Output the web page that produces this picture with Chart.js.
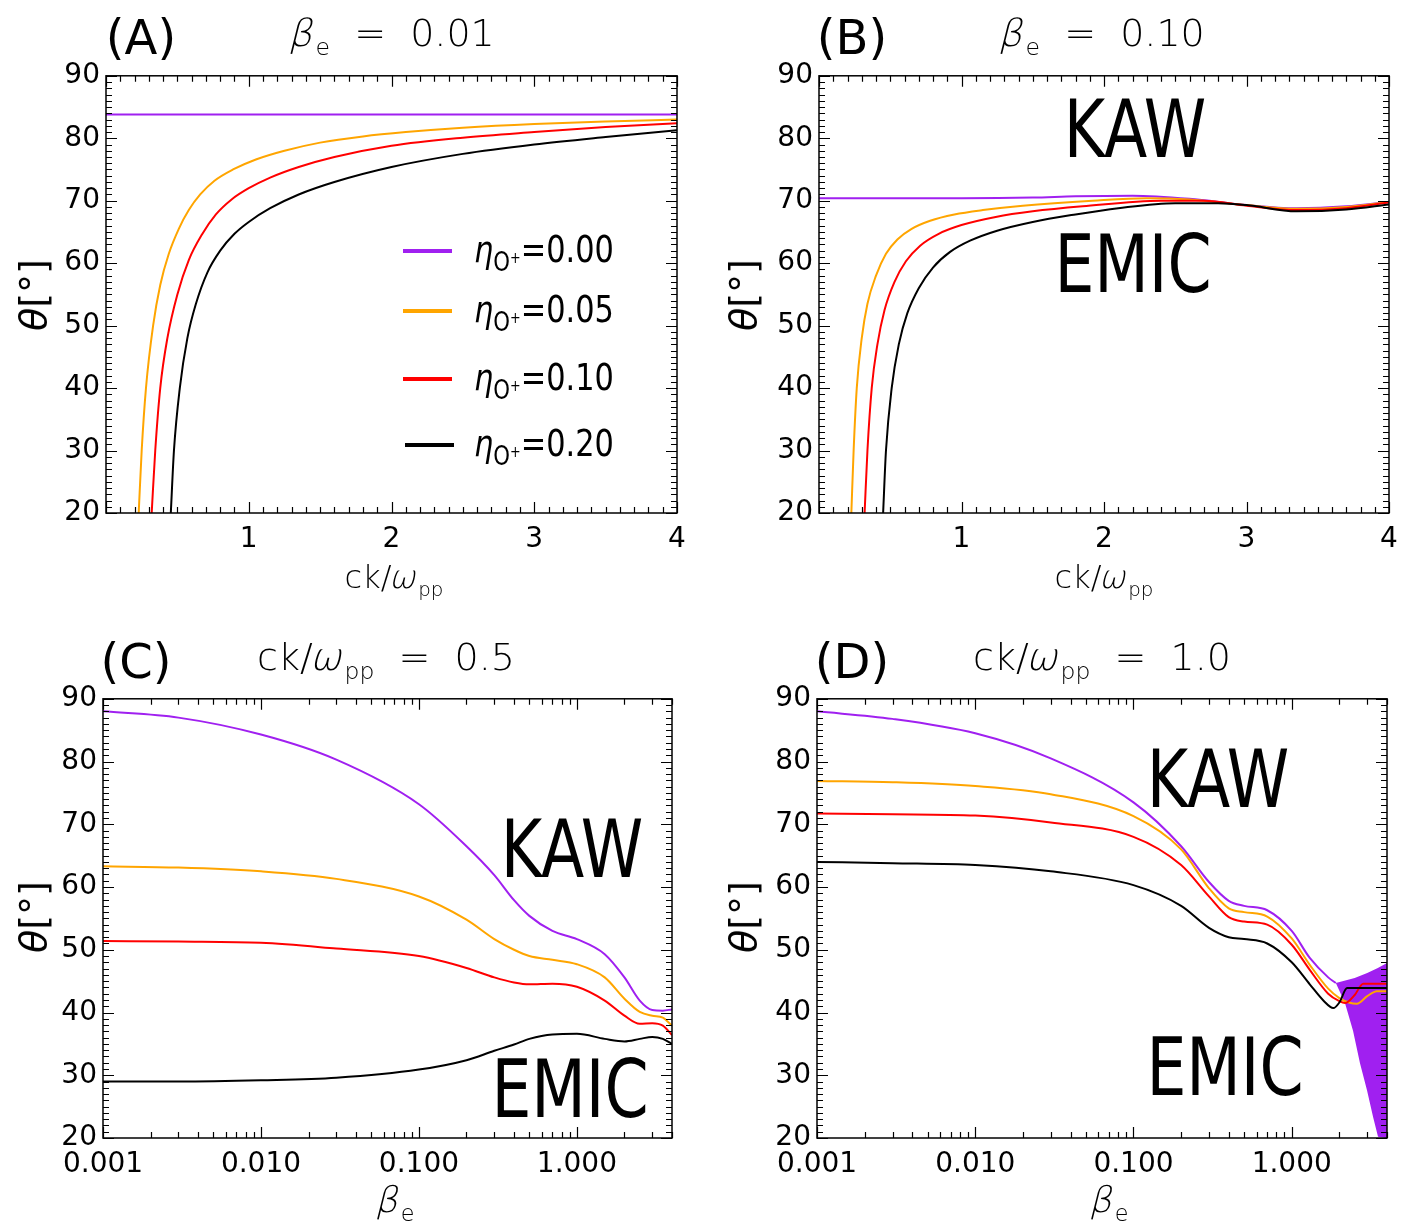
<!DOCTYPE html>
<html>
<head>
<meta charset="utf-8">
<script src="https://cdn.jsdelivr.net/npm/chart.js@4.4.0/dist/chart.umd.min.js"></script>
<style>
  body { margin: 0; background: #fff; width: 1423px; height: 1227px; position: relative; overflow: hidden; font-family: "DejaVu Sans", sans-serif; color: #000; }
  canvas { position: absolute; }
  .t { position: absolute; transform: translate(-50%, -50%); white-space: nowrap; line-height: 1; }
  .lbl { font-size: 48px; }
  .ttl { font-size: 38px; font-weight: 200; }
  .ttl sub, .ax sub { font-size: 0.62em; vertical-align: -0.4em; }
  .sl { display: inline-block; transform: skewX(-14deg); }
  .ax { font-size: 32px; font-weight: 200; }
  .yt { font-size: 38px; transform: translate(-50%, -50%) rotate(-90deg); }
  .big { font-size: 80px; transform: translate(-50%, -50%) scaleX(0.79); }
  .leg { position: absolute; height: 4px; width: 49px; }
  .legt { position: absolute; font-size: 38px; line-height: 1; transform: translateY(-50%) scaleX(0.8); transform-origin: left center; white-space: nowrap; }
  .legt sub { font-size: 0.7em; vertical-align: -0.35em; }
  .legt sup { font-size: 0.6em; vertical-align: 0.5em; }
  i { font-style: italic; }
</style>
</head>
<body>
<canvas id="cA" width="691" height="520" style="left:6px;top:53px"></canvas>
<canvas id="cB" width="690" height="520" style="left:719px;top:53px"></canvas>
<canvas id="cC" width="689" height="522" style="left:3px;top:676px"></canvas>
<canvas id="cD" width="690" height="522" style="left:717px;top:676px"></canvas>

<div class="t lbl" style="left:141px;top:37px">(A)</div>
<div class="t ttl" style="left:393px;top:37px"><span class="sl">β</span><sub>e</sub>&nbsp; = &nbsp;0.01</div>
<div class="t lbl" style="left:852px;top:37px">(B)</div>
<div class="t ttl" style="left:1103px;top:37px"><span class="sl">β</span><sub>e</sub>&nbsp; = &nbsp;0.10</div>
<div class="t lbl" style="left:136px;top:661px">(C)</div>
<div class="t ttl" style="left:386px;top:661px">ck/<span class="sl">ω</span><sub>pp</sub>&nbsp; = &nbsp;0.5</div>
<div class="t lbl" style="left:852px;top:661px">(D)</div>
<div class="t ttl" style="left:1102px;top:661px">ck/<span class="sl">ω</span><sub>pp</sub>&nbsp; = &nbsp;1.0</div>

<div class="t ax" style="left:394px;top:580px">ck/<span class="sl">ω</span><sub>pp</sub></div>
<div class="t ax" style="left:1104px;top:580px">ck/<span class="sl">ω</span><sub>pp</sub></div>
<div class="t ax" style="left:396px;top:1203px;font-size:36px"><span class="sl">β</span><sub>e</sub></div>
<div class="t ax" style="left:1110px;top:1203px;font-size:36px"><span class="sl">β</span><sub>e</sub></div>

<div class="t yt" style="left:33px;top:295px"><i>θ</i>[°]</div>
<div class="t yt" style="left:743px;top:295px"><i>θ</i>[°]</div>
<div class="t yt" style="left:33px;top:917px"><i>θ</i>[°]</div>
<div class="t yt" style="left:743px;top:917px"><i>θ</i>[°]</div>

<div class="t big" style="left:1135px;top:130px">KAW</div>
<div class="t big" style="left:1133px;top:265px">EMIC</div>
<div class="t big" style="left:572px;top:850px">KAW</div>
<div class="t big" style="left:570px;top:1090px">EMIC</div>
<div class="t big" style="left:1218px;top:780px">KAW</div>
<div class="t big" style="left:1225px;top:1068px">EMIC</div>

<div class="leg" style="left:403px;top:249px;background:#A020F0"></div>
<div class="leg" style="left:403px;top:309px;background:#FFA500"></div>
<div class="leg" style="left:403px;top:377px;background:#FF0000"></div>
<div class="leg" style="left:405px;top:443px;background:#000"></div>
<div class="legt" style="left:474px;top:253px"><i>η</i><sub>O<sup>+</sup></sub>=0.00</div>
<div class="legt" style="left:474px;top:313px"><i>η</i><sub>O<sup>+</sup></sub>=0.05</div>
<div class="legt" style="left:474px;top:381px"><i>η</i><sub>O<sup>+</sup></sub>=0.10</div>
<div class="legt" style="left:474px;top:447px"><i>η</i><sub>O<sup>+</sup></sub>=0.20</div>

<script>
const PURPLE = '#A020F0', ORANGE = '#FFA500', RED = '#FF0000', BLACK = '#000000';

// axis ticks
const yTicks = [20, 30, 40, 50, 60, 70, 80, 90];
const kTicks = [0, 1, 2, 3, 4];
const betaTicks = [0.001, 0.01, 0.1, 1];

// (A) beta_e = 0.01
const aPurpleX = [0, 1, 2, 3, 4];
const aPurpleY = [83.8, 83.8, 83.8, 83.8, 83.8];
const aOrangeX = [0.229, 0.25, 0.28, 0.33, 0.38, 0.44, 0.51, 0.58, 0.66, 0.76, 0.89, 1.05, 1.25, 1.5, 1.8, 2.1, 2.5, 3.0, 3.5, 4.0];
const aOrangeY = [20, 30, 40, 50, 56.5, 61.5, 65.5, 68.5, 71, 73.2, 75, 76.6, 78, 79.3, 80.3, 81, 81.7, 82.3, 82.7, 83.0];
const aRedX = [0.32, 0.345, 0.38, 0.43, 0.5, 0.58, 0.67, 0.77, 0.88, 1.0, 1.15, 1.35, 1.6, 2.0, 2.5, 3.0, 3.5, 4.0];
const aRedY = [20, 30, 40, 48, 55, 60.5, 64.5, 67.8, 70.2, 72, 73.7, 75.4, 77, 78.8, 80.1, 81.0, 81.8, 82.4];
const aBlackX = [0.454, 0.476, 0.517, 0.57, 0.63, 0.71, 0.8, 0.9, 1.0, 1.15, 1.35, 1.6, 2.0, 2.5, 3.0, 3.5, 4.0];
const aBlackY = [20, 30, 40, 48, 53.5, 58.5, 62, 64.7, 66.6, 68.8, 71, 73, 75.4, 77.5, 79.0, 80.2, 81.3];

// (B) beta_e = 0.10
const bPurpleX = [0, 1.0, 1.5, 1.8, 2.2, 2.6, 3.0, 3.35, 3.7, 4.0];
const bPurpleY = [70.4, 70.4, 70.5, 70.7, 70.8, 70.3, 69.3, 68.8, 69.1, 69.8];
const bOrangeX = [0.227, 0.243, 0.265, 0.3, 0.34, 0.4, 0.47, 0.55, 0.65, 0.78, 0.95, 1.15, 1.43, 1.92, 2.3, 2.6, 3.0, 3.35, 3.7, 4.0];
const bOrangeY = [20, 30, 40, 48, 53.5, 58, 61.5, 63.8, 65.5, 66.8, 67.8, 68.5, 69.2, 70, 70.4, 70.2, 69.3, 68.7, 69.0, 69.8];
const bRedX = [0.32, 0.34, 0.37, 0.41, 0.46, 0.53, 0.61, 0.71, 0.84, 1.0, 1.24, 1.5, 1.85, 2.4, 2.7, 3.0, 3.35, 3.7, 4.0];
const bRedY = [20, 30, 40, 47, 52.5, 57, 60.3, 62.8, 64.7, 66.1, 67.4, 68.3, 69.1, 70, 70.0, 69.2, 68.5, 68.8, 69.7];
const bBlackX = [0.45, 0.47, 0.51, 0.56, 0.62, 0.7, 0.8, 0.92, 1.06, 1.25, 1.5, 1.8, 2.1, 2.5, 2.8, 3.0, 3.35, 3.7, 4.0];
const bBlackY = [20, 30, 40, 47, 52, 56, 59.3, 61.8, 63.6, 65.2, 66.6, 67.8, 68.8, 69.6, 69.6, 69.3, 68.3, 68.6, 69.4];

// (C) ck/wpp = 0.5
const cBeta = [0.001, 0.003, 0.01, 0.03, 0.1, 0.2, 0.3, 0.4, 0.5, 0.7, 1.0, 1.5, 2.0, 2.5, 3.0, 3.5, 4.0];
const cPurple = [88.0, 87.0, 84.3, 80.3, 73.2, 66.5, 61.9, 57.9, 55.4, 53.0, 51.7, 49.3, 45.6, 41.9, 40.4, 40.3, 40.5];
const cOrange = [63.3, 63.1, 62.5, 61.3, 58.5, 54.8, 51.7, 50.0, 49.0, 48.4, 47.7, 45.6, 42.2, 40.1, 39.5, 39.2, 37.9];
const cRed = [51.4, 51.3, 51.1, 50.2, 49.0, 47.1, 45.6, 44.8, 44.5, 44.6, 44.1, 41.9, 39.5, 38.2, 38.3, 37.9, 36.4];
const cBlack = [29.0, 29.0, 29.2, 29.6, 30.9, 32.4, 33.9, 34.9, 35.8, 36.5, 36.6, 35.8, 35.4, 35.8, 36.1, 35.8, 35.0];

// (D) ck/wpp = 1.0
const dPurpleX = [0.001, 0.003, 0.01, 0.03, 0.1, 0.2, 0.3, 0.4, 0.5, 0.7, 1.0, 1.3, 1.7, 1.9];
const dPurpleY = [88.0, 86.8, 84.5, 80.5, 73.5, 66.5, 60.8, 57.8, 57.0, 56.3, 53.0, 48.7, 45.6, 44.7];
const dBandX = [1.9, 2.5, 3.0, 3.5, 4.0];
const dBandTop = [44.7, 45.5, 46.3, 47.1, 47.9];
const dBandLowX = [1.9, 2.17, 2.44, 2.7, 2.99, 3.27, 3.51, 4.0];
const dBandLow = [44.7, 41.5, 37.1, 31.9, 27.6, 23.3, 20.2, 20.0];
const dOrangeX = [0.001, 0.003, 0.01, 0.03, 0.1, 0.2, 0.3, 0.4, 0.5, 0.7, 1.0, 1.3, 1.7, 2.0, 2.3, 2.58, 3.0, 3.45, 4.0];
const dOrangeY = [76.9, 76.7, 76.1, 74.8, 71.3, 66.0, 59.8, 56.6, 56.0, 55.3, 51.8, 47.6, 43.8, 42.3, 41.6, 41.4, 42.6, 43.4, 43.4];
const dRedX = [0.001, 0.003, 0.01, 0.03, 0.1, 0.2, 0.3, 0.4, 0.5, 0.7, 1.0, 1.3, 1.7, 2.0, 2.17, 2.5, 2.83, 4.0];
const dRedY = [71.7, 71.6, 71.4, 70.3, 68.0, 63.5, 58.5, 55.2, 54.5, 54.0, 50.8, 46.8, 43.0, 41.8, 41.5, 42.8, 44.6, 44.6];
const dBlackX = [0.001, 0.003, 0.01, 0.03, 0.1, 0.2, 0.3, 0.4, 0.5, 0.7, 1.0, 1.3, 1.6, 1.83, 2.0, 2.24, 4.0];
const dBlackY = [64.0, 63.8, 63.5, 62.5, 60.3, 57.0, 53.5, 52.0, 51.7, 51.0, 48.0, 44.5, 41.8, 40.7, 41.6, 43.9, 43.9];

function pts(xs, ys) { return xs.map((x, i) => ({ x, y: ys[i] })); }

function line(xs, ys, color) {
  return { data: pts(xs, ys), borderColor: color, borderWidth: 2, pointRadius: 0, cubicInterpolationMode: 'monotone', fill: false };
}

// frame with inward ticks on all four sides
const frame = {
  id: 'frame',
  afterDatasetsDraw(chart, args, opts) {
    const { ctx, chartArea: a, scales: { x, y } } = chart;
    ctx.save();
    ctx.strokeStyle = '#000';
    ctx.lineWidth = 1.5;
    ctx.strokeRect(a.left, a.top, a.right - a.left, a.bottom - a.top);
    ctx.lineWidth = 1.2;
    ctx.beginPath();
    const tick = (px, len, vertical) => {
      if (vertical) {
        ctx.moveTo(px, a.bottom); ctx.lineTo(px, a.bottom - len);
        ctx.moveTo(px, a.top); ctx.lineTo(px, a.top + len);
      } else {
        ctx.moveTo(a.left, px); ctx.lineTo(a.left + len, px);
        ctx.moveTo(a.right, px); ctx.lineTo(a.right - len, px);
      }
    };
    opts.xMajor.forEach(v => tick(Math.round(x.getPixelForValue(v)) + 0.5, 11, true));
    opts.xMinor.forEach(v => tick(Math.round(x.getPixelForValue(v)) + 0.5, 6, true));
    opts.yMajor.forEach(v => tick(Math.round(y.getPixelForValue(v)) + 0.5, 11, false));
    opts.yMinor.forEach(v => tick(Math.round(y.getPixelForValue(v)) + 0.5, 6, false));
    ctx.stroke();
    ctx.restore();
  }
};

const yMinor = [];
for (let v = 21; v < 90; v++) if (v % 10) yMinor.push(v);
const kMinor = [];
for (let i = 1; i < 40; i++) if (i % 10) kMinor.push(i / 10);
const betaMinor = [];
betaTicks.forEach(d => { for (let k = 2; k <= 9; k++) if (k * d <= 4) betaMinor.push(k * d); });

const tickFont = { family: 'DejaVu Sans', size: 28 };

function makePanel(id, logX, datasets) {
  const xScale = logX ? {
    type: 'logarithmic', min: 0.001, max: 4,
    afterBuildTicks: s => { s.ticks = betaTicks.map(v => ({ value: v })); },
    ticks: { font: tickFont, color: '#000', padding: 10, autoSkip: false, maxRotation: 0, callback: v => Number(v).toFixed(3) },
  } : {
    type: 'linear', min: 0, max: 4,
    afterBuildTicks: s => { s.ticks = kTicks.map(v => ({ value: v })); },
    ticks: { font: tickFont, color: '#000', padding: 10, maxRotation: 0, callback: v => v === 0 ? '' : String(v) },
  };
  xScale.grid = { display: false, drawTicks: false };
  xScale.border = { display: false };
  xScale.afterFit = s => { s.height = 60; };
  new Chart(document.getElementById(id), {
    type: 'line',
    data: { datasets },
    options: {
      responsive: false, animation: false, devicePixelRatio: 1,
      layout: { padding: { left: 0, top: 20, right: 20, bottom: 0 } },
      scales: {
        x: xScale,
        y: {
          type: 'linear', min: 20, max: 90,
          afterBuildTicks: s => { s.ticks = yTicks.map(v => ({ value: v })); },
          ticks: { font: tickFont, color: '#000', padding: 6 },
          grid: { display: false, drawTicks: false }, border: { display: false },
          afterFit: s => { s.width = 100; }
        }
      },
      plugins: {
        legend: { display: false }, tooltip: { enabled: false },
        frame: {
          xMajor: logX ? betaTicks : kTicks, xMinor: logX ? betaMinor : kMinor,
          yMajor: yTicks, yMinor: yMinor
        }
      }
    },
    plugins: [frame]
  });
}

makePanel('cA', false, [
  line(aBlackX, aBlackY, BLACK), line(aRedX, aRedY, RED),
  line(aOrangeX, aOrangeY, ORANGE), line(aPurpleX, aPurpleY, PURPLE)
]);
makePanel('cB', false, [
  line(bBlackX, bBlackY, BLACK), line(bRedX, bRedY, RED),
  line(bOrangeX, bOrangeY, ORANGE), line(bPurpleX, bPurpleY, PURPLE)
]);
makePanel('cC', true, [
  line(cBeta, cBlack, BLACK), line(cBeta, cRed, RED),
  line(cBeta, cOrange, ORANGE), line(cBeta, cPurple, PURPLE)
]);
makePanel('cD', true, [
  line(dBlackX, dBlackY, BLACK), line(dRedX, dRedY, RED),
  line(dOrangeX, dOrangeY, ORANGE), line(dPurpleX, dPurpleY, PURPLE),
  { data: pts(dBandX, dBandTop), borderWidth: 0, pointRadius: 0, backgroundColor: PURPLE, fill: '+1' },
  { data: pts(dBandLowX, dBandLow), borderWidth: 0, pointRadius: 0, backgroundColor: PURPLE, fill: false }
]);
</script>
</body>
</html>
